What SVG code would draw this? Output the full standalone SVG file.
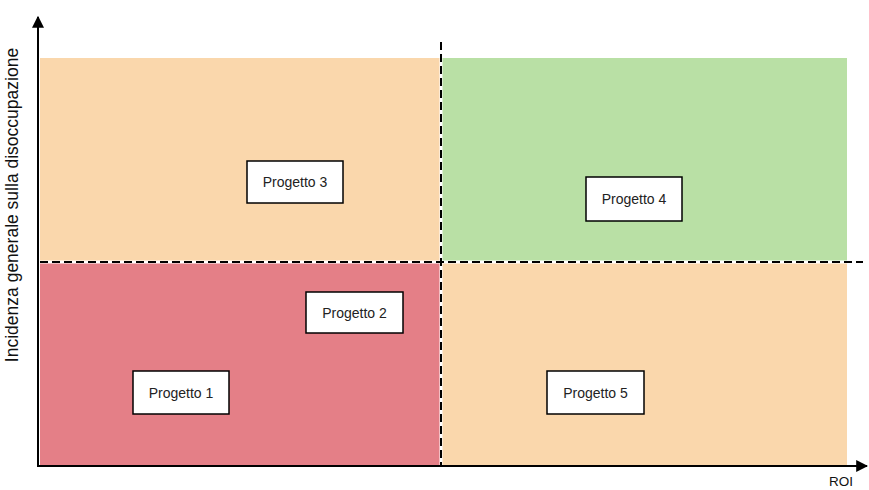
<svg xmlns="http://www.w3.org/2000/svg" width="869" height="490" viewBox="0 0 869 490">
<style>
.q{stroke:none}
.box{fill:#ffffff;stroke:#000000;stroke-width:1.5}
.lbl{font-family:"Liberation Sans",Arial,sans-serif;font-size:14px;fill:#222222;text-anchor:middle;dominant-baseline:central}
.ax{stroke:#000000;stroke-width:2;fill:none}
.dash{stroke:#000000;stroke-width:2;stroke-dasharray:8 4;fill:none}
.gap{stroke:#ffffff;stroke-width:3;fill:none}
.axt{font-family:"Liberation Sans",Arial,sans-serif;fill:#111111}
</style>
<defs>
<marker id="arr" viewBox="0 0 10 10" refX="9" refY="5" markerWidth="6" markerHeight="6" markerUnits="strokeWidth" orient="auto">
<path d="M0,0 L10,5 L0,10 z" fill="#000000"/>
</marker>
</defs>
<rect width="869" height="490" fill="#ffffff"/>
<g id="quadrants">
<rect class="q" x="40" y="58" width="400" height="204" fill="#FAD7AC"/>
<rect class="q" x="442" y="58" width="405" height="204" fill="#B9E0A5"/>
<rect class="q" x="40" y="262" width="400" height="204" fill="#E47F87"/>
<rect class="q" x="442" y="262" width="405" height="204" fill="#FAD7AC"/>
</g>
<g id="connectors">
<line class="gap" x1="40" y1="262" x2="863" y2="262"/>
<line class="gap" x1="441" y1="42" x2="441" y2="466"/>
<line class="dash" x1="40" y1="262" x2="863" y2="262"/>
<line class="dash" x1="441" y1="42" x2="441" y2="466"/>
<line class="ax" x1="38" y1="467" x2="38" y2="17" marker-end="url(#arr)"/>
<line class="ax" x1="37" y1="466" x2="867" y2="466" marker-end="url(#arr)"/>
</g>
<g id="axis-labels">
<text class="axt" font-size="17.5" text-anchor="middle" transform="translate(18,205) rotate(-90)">Incidenza generale sulla disoccupazione</text>
<text class="axt" font-size="13.5" x="829" y="486">ROI</text>
</g>
<g id="p3"><rect class="box" x="247" y="161" width="96" height="42"/><text class="lbl" x="295" y="182">Progetto 3</text></g>
<g id="p4"><rect class="box" x="586" y="177" width="96" height="44"/><text class="lbl" x="634" y="199">Progetto 4</text></g>
<g id="p2"><rect class="box" x="306" y="292" width="97" height="41"/><text class="lbl" x="354.5" y="312.5">Progetto 2</text></g>
<g id="p1"><rect class="box" x="133" y="371" width="96" height="43"/><text class="lbl" x="181" y="392.5">Progetto 1</text></g>
<g id="p5"><rect class="box" x="547" y="371" width="97" height="43"/><text class="lbl" x="595.5" y="392.5">Progetto 5</text></g>
</svg>
